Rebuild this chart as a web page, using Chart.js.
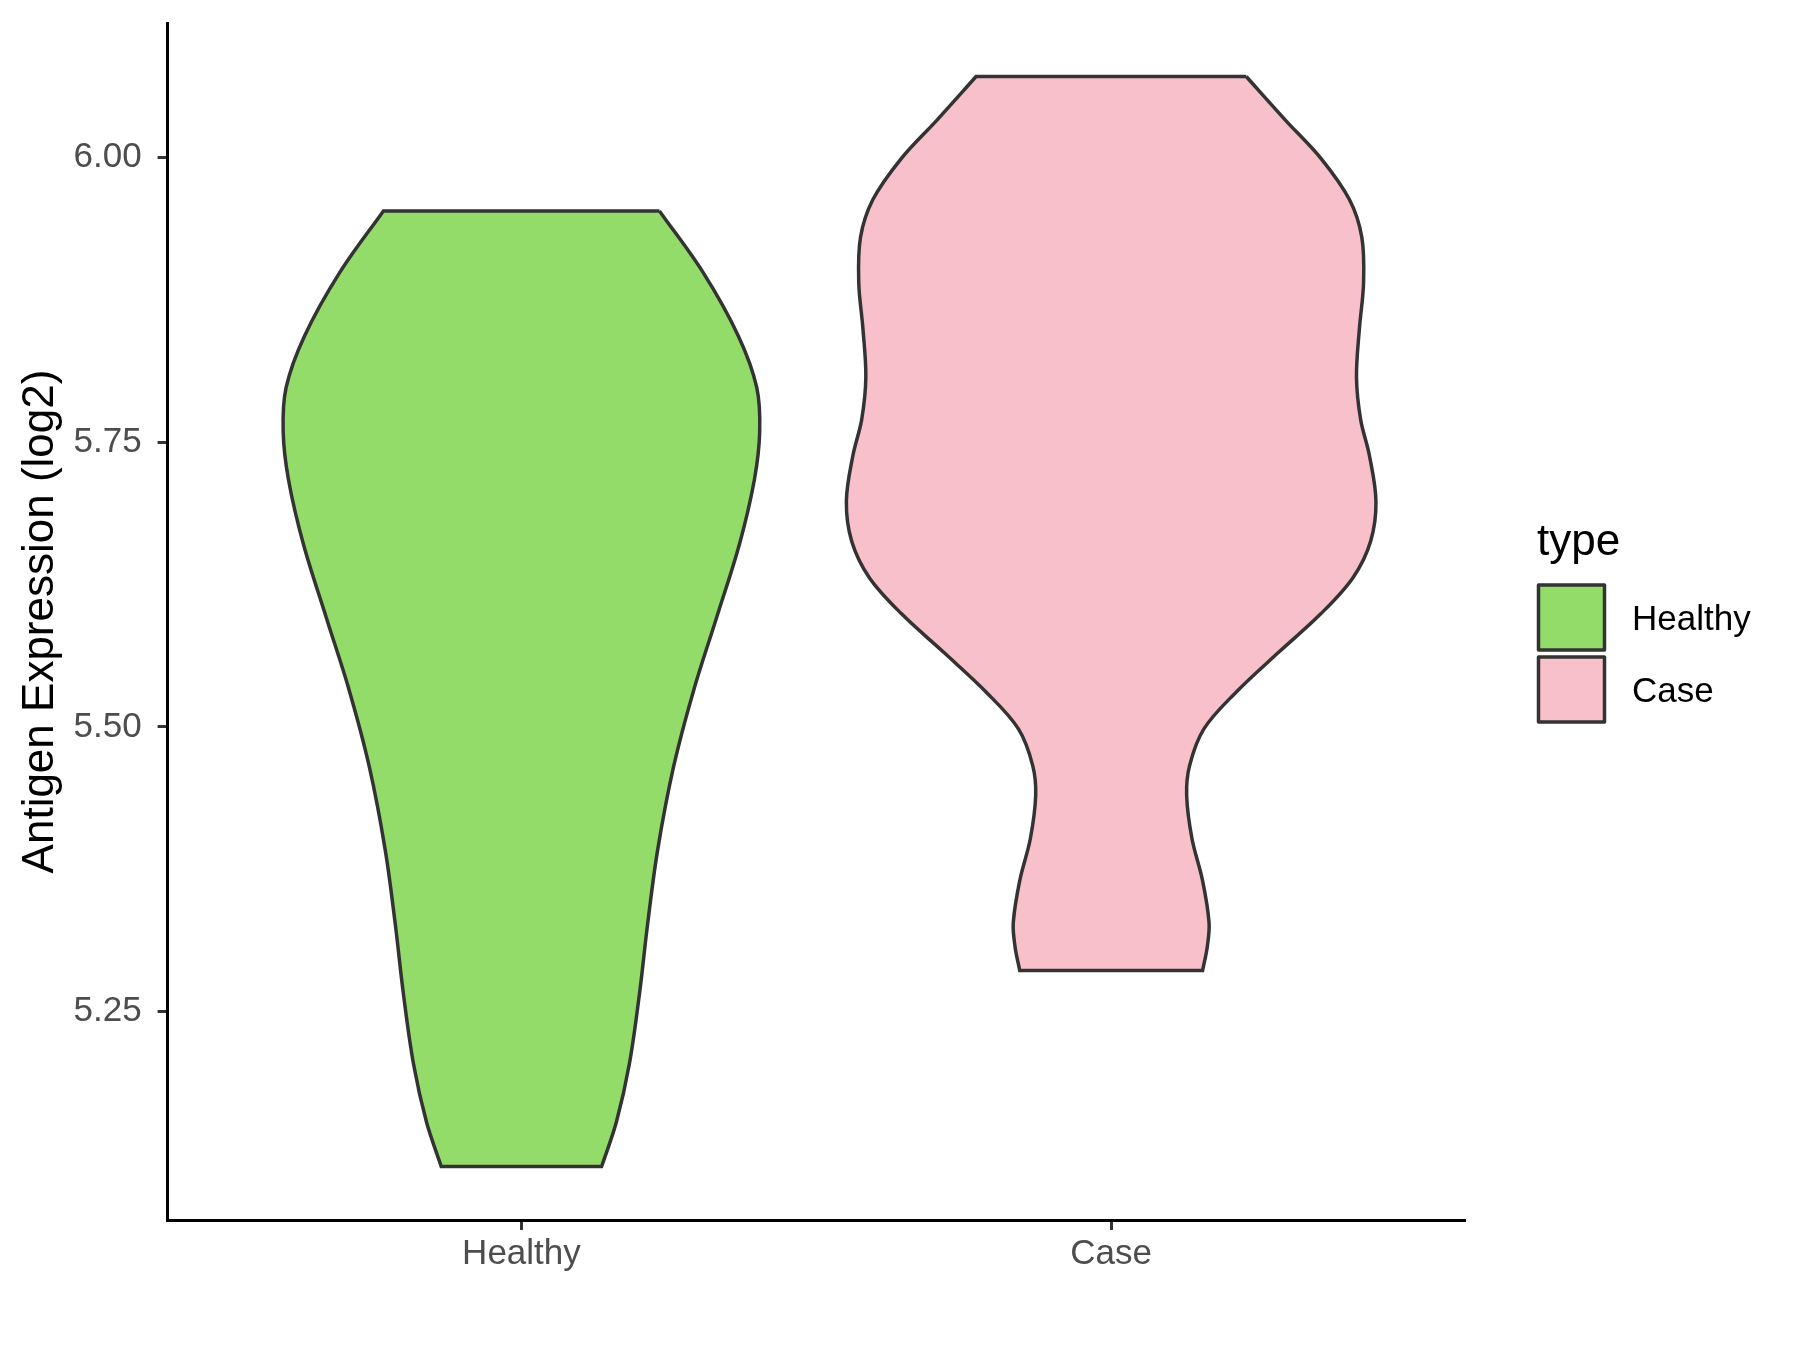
<!DOCTYPE html>
<html>
<head>
<meta charset="utf-8">
<title>Antigen Expression violin</title>
<script src="https://cdn.jsdelivr.net/npm/chart.js@4.4.1/dist/chart.umd.min.js"></script>
<style>
  html, body { margin: 0; padding: 0; background: #fff; }
  #wrap { width: 1800px; height: 1350px; }
</style>
</head>
<body>
<div id="wrap"><canvas id="violinChart" width="1800" height="1350"></canvas></div>
<script>
// groups on the x axis
const categories = ["Healthy", "Case"];
const fillColors = ["#94DC6A", "#F7C0CB"];

// violin outlines: value (log2) and half width (in x units)
const healthyValues = [5.953, 5.899, 5.843, 5.798, 5.759, 5.717, 5.661, 5.596, 5.532, 5.465, 5.392, 5.327, 5.265, 5.204, 5.153, 5.114];
const healthyWidths = [0.234, 0.308, 0.368, 0.399, 0.404, 0.395, 0.370, 0.331, 0.292, 0.258, 0.231, 0.214, 0.200, 0.183, 0.161, 0.136];

const caseValues = [6.071, 6.033, 5.999, 5.963, 5.930, 5.890, 5.850, 5.807, 5.770, 5.738, 5.698, 5.663, 5.631, 5.599, 5.565, 5.530, 5.498, 5.466, 5.440, 5.402, 5.365, 5.328, 5.307, 5.286];
const caseWidths = [0.229, 0.295, 0.356, 0.404, 0.425, 0.428, 0.421, 0.416, 0.423, 0.438, 0.449, 0.440, 0.410, 0.355, 0.283, 0.211, 0.157, 0.133, 0.128, 0.137, 0.155, 0.166, 0.163, 0.155];

// y axis
const yTicks = [5.25, 5.50, 5.75, 6.00];
const yMin = 5.067;
const yMax = 6.118;

const FONT = "'Liberation Sans', Arial, sans-serif";

// closed outline: down the right side, across the bottom, up the left side
function violinPoints(center, values, widths) {
  const right = values.map((v, i) => ({ x: center + widths[i], y: v }));
  const left = values.map((v, i) => ({ x: center - widths[i], y: v })).reverse();
  const last = right.length - 1;
  // corners are doubled so the flat ends stay straight with tension on
  return [right[0], ...right, right[last], left[0], ...left, left[last], right[0]];
}

const groups = [
  { values: healthyValues, widths: healthyWidths },
  { values: caseValues, widths: caseWidths }
];

const legendPlugin = {
  id: "typeLegend",
  afterDraw(chart) {
    const ctx = chart.ctx;
    ctx.save();
    ctx.fillStyle = "#000";
    ctx.font = `44px ${FONT}`;
    ctx.textBaseline = "alphabetic";
    ctx.fillText("type", 1537, 555);

    ctx.font = `35px ${FONT}`;
    chart.data.datasets.forEach((ds, i) => {
      const top = 585 + i * 72;
      ctx.fillStyle = ds.backgroundColor;
      ctx.fillRect(1538.5, top, 66, 65);
      ctx.lineWidth = 3.5;
      ctx.lineJoin = "round";
      ctx.strokeStyle = "#333333";
      ctx.strokeRect(1538.5, top, 66, 65);
      ctx.fillStyle = "#000";
      ctx.fillText(ds.label, 1632, top + 45);
    });
    ctx.restore();
  }
};

new Chart(document.getElementById("violinChart"), {
  type: "scatter",
  data: {
    datasets: categories.map((name, i) => ({
      label: name,
      data: violinPoints(i + 1, groups[i].values, groups[i].widths),
      showLine: true,
      fill: "shape",
      backgroundColor: fillColors[i],
      borderColor: "#333333",
      borderWidth: 3.5,
      tension: 0.35,
      pointRadius: 0,
      pointHoverRadius: 0
    }))
  },
  options: {
    responsive: false,
    animation: false,
    events: [],
    layout: { padding: { top: 23, right: 335, bottom: 0, left: 0 } },
    plugins: {
      legend: { display: false },
      tooltip: { enabled: false }
    },
    scales: {
      x: {
        type: "linear",
        min: 0.4,
        max: 2.6,
        afterBuildTicks: s => { s.ticks = categories.map((_, i) => ({ value: i + 1 })); },
        afterFit: s => { s.height = 130; s.paddingLeft = 0; s.paddingRight = 0; },
        ticks: {
          callback: v => categories[v - 1],
          color: "#4D4D4D",
          font: { family: FONT, size: 35 },
          padding: 3,
          maxRotation: 0,
          autoSkip: false
        },
        grid: { drawOnChartArea: false, drawTicks: true, tickLength: 10, tickWidth: 3, tickColor: "#333333" },
        border: { display: true, color: "#000", width: 3 }
      },
      y: {
        type: "linear",
        min: yMin,
        max: yMax,
        afterBuildTicks: s => { s.ticks = yTicks.map(v => ({ value: v })); },
        afterFit: s => { s.width = 167.6; s.paddingTop = 0; s.paddingBottom = 0; },
        ticks: {
          callback: v => v.toFixed(2),
          color: "#4D4D4D",
          font: { family: FONT, size: 35 },
          padding: 16
        },
        title: {
          display: true,
          text: "Antigen Expression (log2)",
          color: "#000",
          font: { family: FONT, size: 44 },
          padding: { top: 14, bottom: 0 }
        },
        grid: { drawOnChartArea: false, drawTicks: true, tickLength: 10, tickWidth: 3, tickColor: "#333333" },
        border: { display: true, color: "#000", width: 3 }
      }
    }
  },
  plugins: [legendPlugin]
});
</script>
</body>
</html>
